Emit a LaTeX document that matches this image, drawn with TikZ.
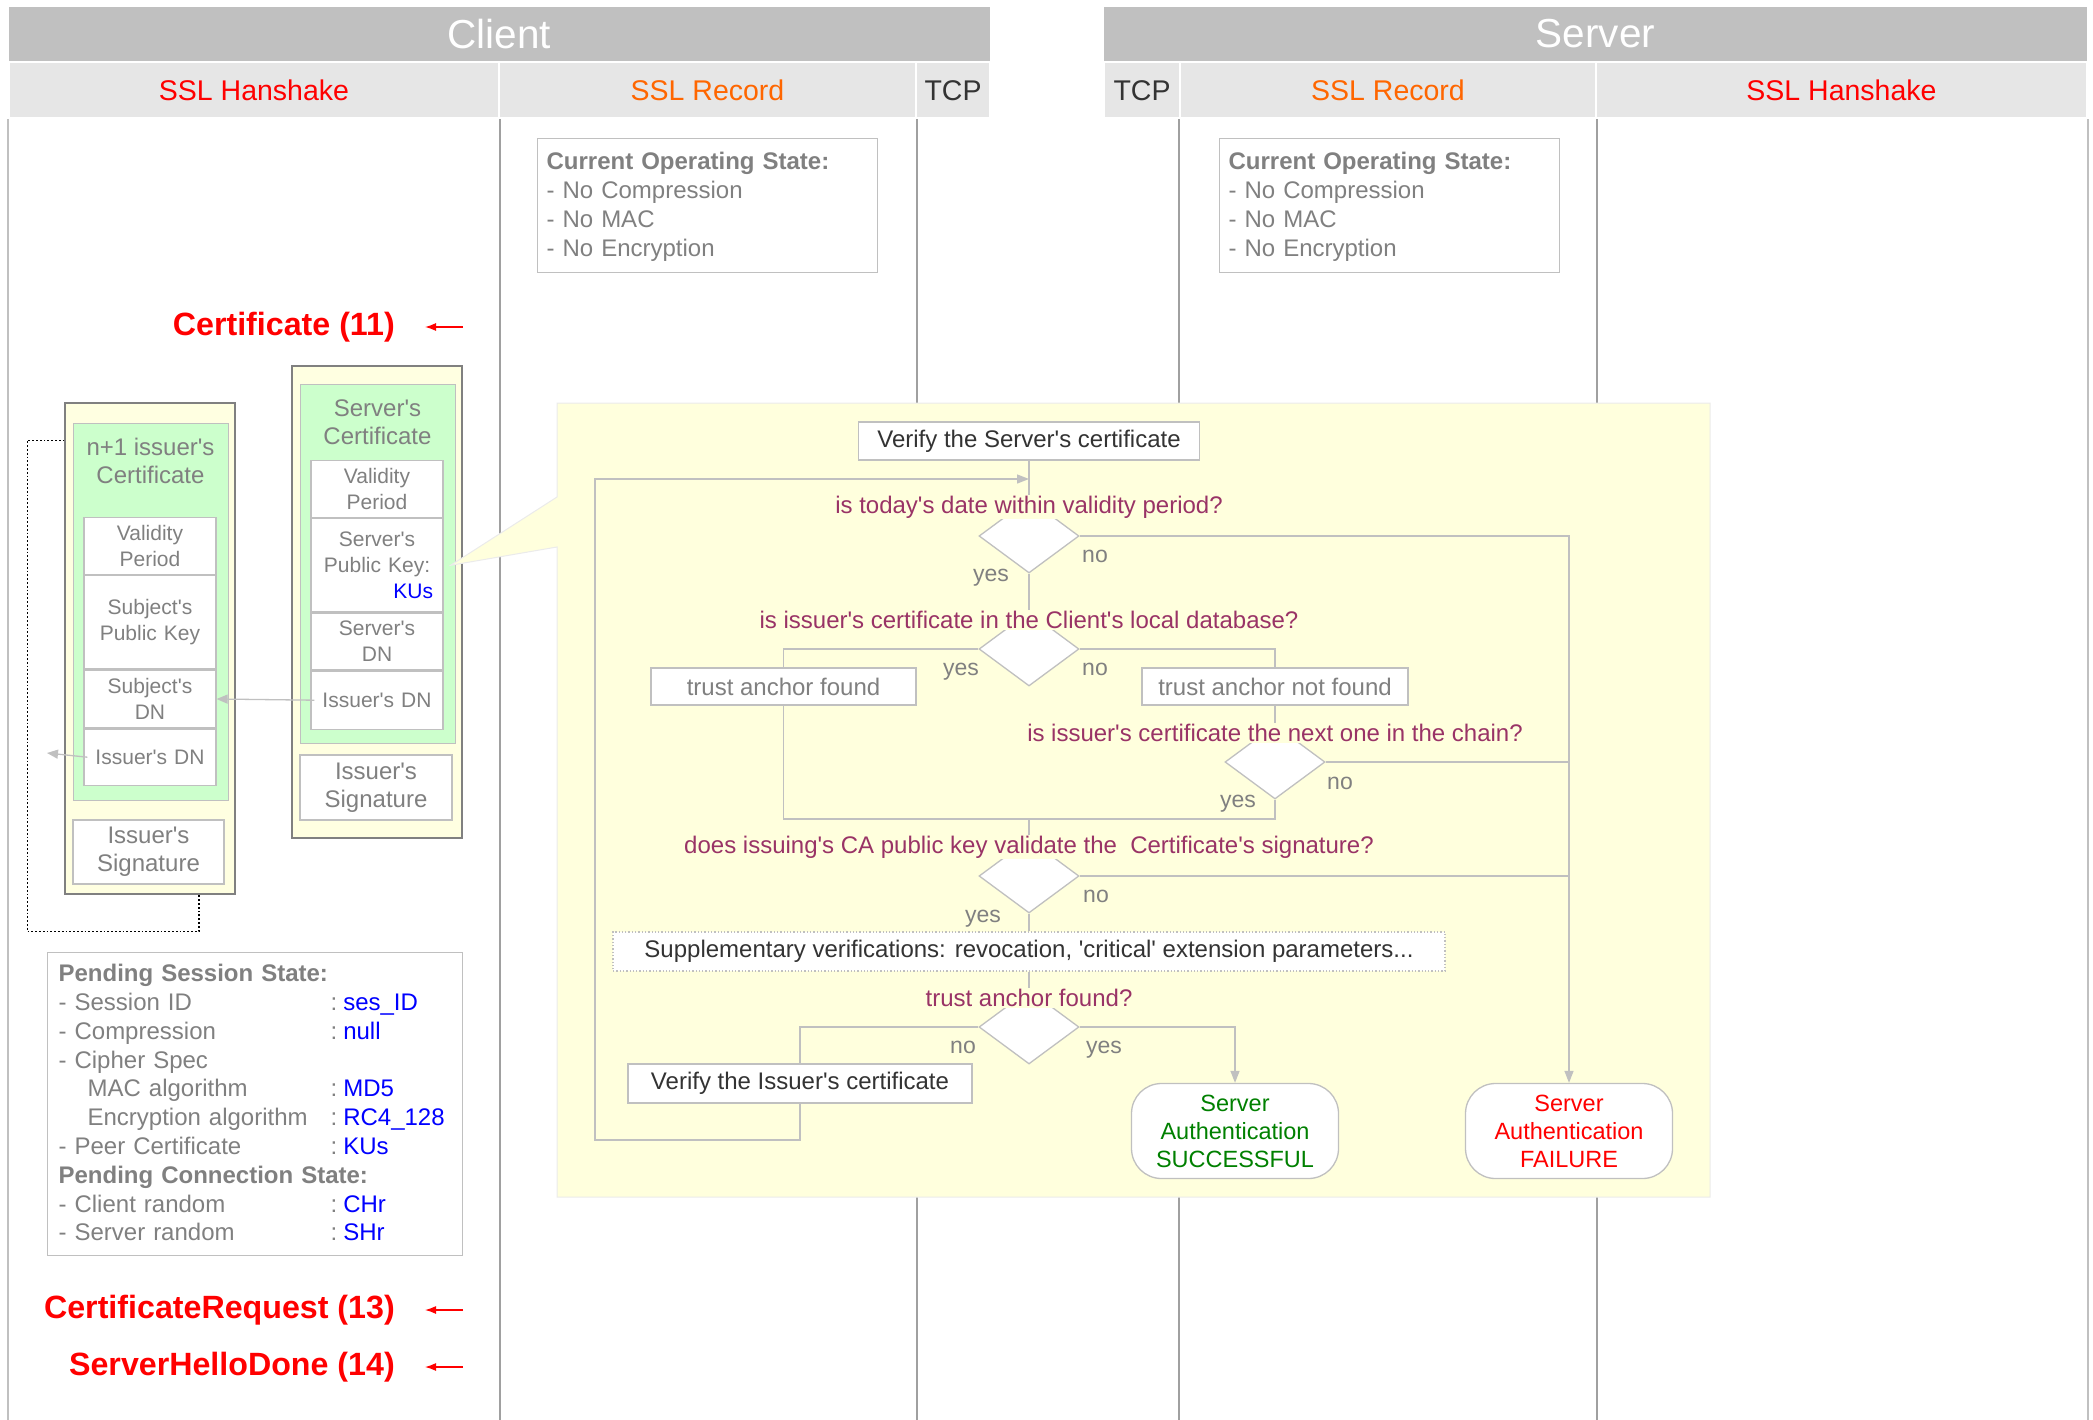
\documentclass[tikz,border=0pt]{standalone}
\usepackage{fontspec}
\setmainfont{Liberation Sans}[Ligatures=TeXOff]
\usetikzlibrary{positioning, shapes.geometric, arrows.meta}

\definecolor{bandgray}{HTML}{C0C0C0}
\definecolor{lanegray}{HTML}{E6E6E6}
\definecolor{lifegray}{HTML}{A0A0A0}
\definecolor{flowgray}{HTML}{C0C0C0}
\definecolor{txtgray}{HTML}{808080}
\definecolor{txtdark}{HTML}{333333}
\definecolor{askred}{HTML}{993366}
\definecolor{noteyellow}{HTML}{FFFFDD}
\definecolor{certyellow}{HTML}{FFFFE1}
\definecolor{tbsgreen}{HTML}{CCFFCC}
\definecolor{okgreen}{HTML}{008000}
\definecolor{recorange}{HTML}{FF6600}

\newcommand{\fsz}[2]{\fontsize{#1}{#2}\selectfont}
\newcommand{\pendrow}[2]{\makebox[272pt][l]{#1}:\hspace{6pt}\textcolor{blue}{#2}}

\begin{document}
\begin{tikzpicture}[x=1pt, y=-1pt,
    band/.style={fill=bandgray, inner sep=0pt, minimum height=54pt, text=white, font=\fsz{40.5}{46}},
    lane/.style={fill=lanegray, draw=white, line width=2pt, inner sep=0pt, minimum height=56pt, font=\fsz{28.5}{33}},
    lifeline/.style={draw=lifegray, line width=1.5pt},
    edgeline/.style={draw=flowgray, line width=1.5pt},
    statebox/.style={draw=flowgray, line width=1.2pt, fill=white, text=txtgray, align=left, inner xsep=9pt, inner ysep=11pt, font=\fsz{24}{29}},
    msg/.style={text=red, font=\bfseries\fsz{32.2}{37}, inner sep=0pt},
    msgarrow/.style={draw=red, line width=1.3pt, -{Latex[length=11pt, width=8pt]}},
    certbox/.style={draw=txtgray, line width=1.2pt, fill=certyellow, inner sep=0pt, minimum width=170pt},
    tbsbox/.style={draw=flowgray, line width=1pt, fill=tbsgreen, inner sep=0pt, minimum width=155pt},
    certtitle/.style={text=txtgray, align=center, font=\fsz{24}{28}, inner sep=0pt},
    field/.style={draw=flowgray, line width=1.2pt, fill=white, text=txtgray, minimum width=132pt, text width=112pt, align=center, inner xsep=10pt, inner ysep=0pt, font=\fsz{21}{26}},
    sigbox/.style={draw=flowgray, line width=1.2pt, fill=white, text=txtgray, align=center, inner sep=0pt, font=\fsz{24}{28}},
    linkarrow/.style={draw=flowgray, line width=1.3pt, -{Triangle[length=11pt, width=9pt]}},
    chainline/.style={draw=black, line width=1.8pt, dotted},
    note/.style={draw=black!8, line width=1pt, fill=noteyellow},
    stepbox/.style={draw=flowgray, line width=1.3pt, fill=white, text=txtdark, inner sep=0pt, font=\fsz{24}{29}},
    ask/.style={fill=noteyellow, text=askred, inner xsep=2pt, inner ysep=1pt, font=\fsz{24}{29}},
    decision/.style={diamond, draw=flowgray, line width=1.3pt, fill=white, inner sep=0pt, minimum width=100pt, minimum height=74pt},
    answer/.style={text=txtgray, inner sep=0pt, text height=12pt, text depth=0pt, font=\fsz{23}{28}},
    flow/.style={draw=flowgray, line width=1.3pt},
    flowto/.style={flow, -{Triangle[length=12pt, width=9pt]}},
    endbox/.style={draw=flowgray, line width=1.3pt, fill=white, rounded corners=30pt, minimum width=207pt, minimum height=95pt, align=center, inner sep=0pt, font=\fsz{23.5}{28}}
]
    \useasboundingbox (0,0) rectangle (2093,1420);

    % Header of both parties
    \node[band, minimum width=981pt] (client) at (499.5,34) {Client};
    \node[band, minimum width=983pt] (server) at (1595.5,34) {Server};
    \node[lane, minimum width=490pt, text=red] (chs) at (254,90.5) {SSL Hanshake};
    \node[lane, minimum width=417pt, text=recorange] (crec) at (707.5,90.5) {SSL Record};
    \node[lane, minimum width=74pt, text=txtdark] (ctcp) at (953,90.5) {TCP};
    \node[lane, minimum width=76pt, text=txtdark] (stcp) at (1142,90.5) {TCP};
    \node[lane, minimum width=416pt, text=recorange] (srec) at (1388,90.5) {SSL Record};
    \node[lane, minimum width=491pt, text=red] (shs) at (1841.5,90.5) {SSL Hanshake};

    % Lifelines
    \draw[edgeline] (chs.south west) -- ++(0,1302);
    \draw[lifeline] (chs.south east) -- ++(0,1302);
    \draw[lifeline] (crec.south east) -- ++(0,1302);
    \draw[lifeline] (srec.south west) -- ++(0,1302);
    \draw[lifeline] (srec.south east) -- ++(0,1302);
    \draw[edgeline] (shs.south east) -- ++(0,1302);

    % Record layer states
    \node[statebox, text width=322pt, anchor=north west] (cstate) at (537,138)
        {\rule{0pt}{20pt}\textbf{Current Operating State:}\\- No Compression\\- No MAC\\- No Encryption};
    \node[statebox, text width=322pt, anchor=north west] (sstate) at (1219,138)
        {\rule{0pt}{20pt}\textbf{Current Operating State:}\\- No Compression\\- No MAC\\- No Encryption};

    % Handshake messages
    \node[msg, anchor=east] (m11) at (395,327) {Certificate (11)};
    \coordinate (m11src) at (463,327);
    \draw[msgarrow] (m11src) -- ([xshift=30pt]m11.east);

    % Server's certificate
    \node[certbox, minimum height=472pt] (scert) at (377,602) {};
    \node[tbsbox, minimum height=359pt] (stbs) at (377.5,563.5) {};
    \node[certtitle] (stitle) at (377.5,422) {Server's\\Certificate};
    \node[field, minimum height=57pt, anchor=north] (svp) at (377,460) {Validity\\Period};
    \node[field, minimum height=93pt, below=0pt of svp] (skey) {Server's\\Public Key:\\\mbox{}\hfill\textcolor{blue}{KUs}};
    \node[field, minimum height=57pt, below=0pt of skey] (sdn) {Server's\\DN};
    \node[field, minimum height=58pt, below=0pt of sdn] (sidn) {Issuer's DN};
    \node[sigbox, minimum width=152pt, minimum height=65pt] (ssig) at (376,787.5) {Issuer's\\Signature};

    % n+1 issuer's certificate
    \node[certbox, minimum height=491pt] (ncert) at (150,648.5) {};
    \node[tbsbox, minimum height=377pt] (ntbs) at (150.5,611.5) {};
    \node[certtitle] (ntitle) at (150.5,461) {n+1 issuer's\\Certificate};
    \node[field, minimum height=57pt, anchor=north] (nvp) at (150,517) {Validity\\Period};
    \node[field, minimum height=93pt, below=0pt of nvp] (nkey) {Subject's\\Public Key};
    \node[field, minimum height=58pt, below=0pt of nkey] (nsdn) {Subject's\\DN};
    \node[field, minimum height=56pt, below=0pt of nsdn] (nidn) {Issuer's DN};
    \node[sigbox, minimum width=151pt, minimum height=64pt] (nsig) at (148.5,852) {Issuer's\\Signature};

    \draw[linkarrow] ([xshift=4pt]sidn.west) -- (nsdn.east);
    \coordinate (nextca) at (47,753);
    \draw[linkarrow] ([xshift=4pt]nidn.west) -- (nextca);
    \draw[chainline] (ncert.north west) ++(0,38) -- ++(-37,0) -- ++(0,491) -| ([xshift=-37pt]ncert.south east);

    % Callout with the verification
    \draw[note] (557,403) -- (1710,403) -- (1710,1197) -- (557,1197) -- (557,547)
        -- ([xshift=7pt]skey.east) -- (557,497) -- cycle;

    \node[stepbox, minimum width=341pt, minimum height=38pt] (vsc) at (1029,441) {Verify the Server's certificate};
    \node[decision] (d1) at (1029,536) {};
    \node[ask] (q1) at (1029,507) {is today's date within validity period?};
    \node[decision] (d2) at (1029,649) {};
    \node[ask] (q2) at (1029,620) {is issuer's certificate in the Client's local database?};
    \node[stepbox, text=txtgray, minimum width=265pt, minimum height=37pt] (tf) at (783.5,686.5) {trust anchor found};
    \node[stepbox, text=txtgray, minimum width=266pt, minimum height=37pt] (tnf) at (1275,686.5) {trust anchor not found};
    \node[decision] (d3) at (1275,762) {};
    \node[ask] (q3) at (1275,733) {is issuer's certificate the next one in the chain?};
    \node[decision] (d4) at (1029,876) {};
    \node[ask] (q4) at (1029,847) {does issuing's CA public key validate the\ \ Certificate's signature?};
    \node[stepbox, dotted, minimum width=832pt, minimum height=39pt] (supp) at (1029,951.5)
        {Supplementary verifications: revocation, 'critical' extension parameters...};
    \node[decision] (d5) at (1029,1027) {};
    \node[ask] (q5) at (1029,998) {trust anchor found?};
    \node[stepbox, minimum width=344pt, minimum height=39pt] (vic) at (800,1083.5) {Verify the Issuer's certificate};
    \node[endbox, text=okgreen] (ok) at (1235,1131) {Server\\Authentication\\SUCCESSFUL};
    \node[endbox, text=red] (fail) at (1569,1131) {Server\\Authentication\\FAILURE};

    % yes / no
    \node[answer] (d1no) at (1095,556) {no};
    \node[answer] (d1yes) at (991,575) {yes};
    \node[answer] (d2yes) at (961,669) {yes};
    \node[answer] (d2no) at (1095,669) {no};
    \node[answer] (d3no) at (1340,783) {no};
    \node[answer] (d3yes) at (1238,801) {yes};
    \node[answer] (d4no) at (1096,896) {no};
    \node[answer] (d4yes) at (983,916) {yes};
    \node[answer] (d5no) at (963,1047) {no};
    \node[answer] (d5yes) at (1104,1047) {yes};

    \coordinate (mrg) at (1029,819);
    \coordinate (back) at (595,1140);
    \coordinate (loopin) at (1029,479);
    \draw[flow] (vsc) -- (q1);
    \draw[flow] (d1) -- (q2);
    \draw[flowto] (d1.east) -| (fail);
    \draw[flow] (d2.west) -| (tf);
    \draw[flow] (d2.east) -| (tnf);
    \draw[flow] (tnf) -- (q3);
    \draw[flow] (d3.east) -- (d3.east -| fail.north);
    \draw[flow] (tf) |- (mrg) -| (d3);
    \draw[flow] (mrg) -- (q4);
    \draw[flow] (d4.east) -- (d4.east -| fail.north);
    \draw[flow] (d4) -- (supp);
    \draw[flow] (supp) -- (q5);
    \draw[flow] (d5.west) -| (vic);
    \draw[flowto] (d5.east) -| (ok);
    \draw[flowto] (vic) |- (back) |- (loopin);

    % Pending states
    \node[statebox, text width=393pt, inner xsep=11pt, inner ysep=9pt, font=\fsz{24}{28.8}, anchor=north west] (pending) at (47,952)
        {\rule{0pt}{20pt}\textbf{Pending Session State:}\\
         \pendrow{- Session ID}{ses\_ID}\\
         \pendrow{- Compression}{null}\\
         - Cipher Spec\\
         \pendrow{\hspace{29pt}MAC algorithm}{MD5}\\
         \pendrow{\hspace{29pt}Encryption algorithm}{RC4\_128}\\
         \pendrow{- Peer Certificate}{KUs}\\
         \textbf{Pending Connection State:}\\
         \pendrow{- Client random}{CHr}\\
         \pendrow{- Server random}{SHr}\rule[-6pt]{0pt}{6pt}};

    \node[msg, anchor=east] (m13) at (395,1310) {CertificateRequest (13)};
    \coordinate (m13src) at (463,1310);
    \draw[msgarrow] (m13src) -- ([xshift=30pt]m13.east);
    \node[msg, anchor=east] (m14) at (395,1367) {ServerHelloDone (14)};
    \coordinate (m14src) at (463,1367);
    \draw[msgarrow] (m14src) -- ([xshift=30pt]m14.east);
\end{tikzpicture}
\end{document}
